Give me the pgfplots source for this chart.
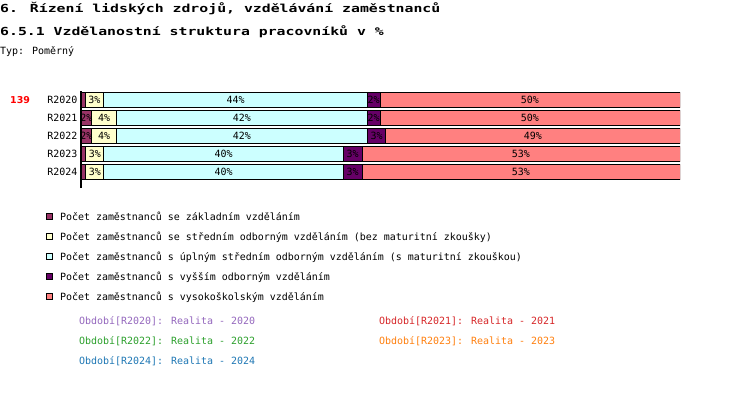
\documentclass[border=0pt]{standalone}
\usepackage{fontspec}
\usepackage{pgfplots}
\usepackage{pgfplotstable}
\pgfplotsset{compat=1.18}
\setmainfont{DejaVu Sans Mono}
\newfontfamily\titlefont[FakeStretch=1.34]{DejaVu Sans Mono}
\newfontfamily\numfont{DejaVu Sans}
\definecolor{cA}{HTML}{993366}
\definecolor{cB}{HTML}{FFFFCC}
\definecolor{cC}{HTML}{CCFFFF}
\definecolor{cD}{HTML}{660066}
\definecolor{cE}{HTML}{FF8080}
\definecolor{tPurple}{HTML}{9467BD}
\definecolor{tRed}{HTML}{D62728}
\definecolor{tGreen}{HTML}{2CA02C}
\definecolor{tOrange}{HTML}{FF7F0E}
\definecolor{tBlue}{HTML}{1F77B4}

\pgfplotstableread{
y a b c d e
4 0.7 3.1 44.0 2.1 50.1
3 1.8 4.1 41.9 2.1 50.1
2 1.8 4.1 41.9 3.1 49.1
1 0.8 3.0 40.0 3.1 53.1
0 0.8 3.0 40.0 3.1 53.1
}\datatable

\pgfplotstableread{
x y lab
2.25 4 3
25.8 4 44
48.85 4 2
74.95 4 50
0.9 3 2
3.85 3 4
26.85 3 42
48.85 3 2
74.95 3 50
0.9 2 2
3.85 2 4
26.85 2 42
49.35 2 3
75.45 2 49
2.3 1 3
23.8 1 40
45.35 1 3
73.45 1 53
2.3 0 3
23.8 0 40
45.35 0 3
73.45 0 53
}\labeltable

\begin{document}
\begin{tikzpicture}[x=1bp,y=1bp]
\useasboundingbox (0,0) rectangle (750,-418);
\fontsize{10}{12}\selectfont
\node[anchor=base west, inner sep=0pt] at (0,-12) {\titlefont\bfseries\fontsize{11.1}{13}\selectfont 6. Řízení lidských zdrojů, vzdělávání zaměstnanců};
\node[anchor=base west, inner sep=0pt] at (0,-35) {\titlefont\bfseries\fontsize{11.1}{13}\selectfont 6.5.1 Vzdělanostní struktura pracovníků v \%};
\node[anchor=base west, inner sep=0pt] at (0,-54) {Typ: Poměrný};
\node[anchor=base west, inner sep=0pt, text=red] at (10,-103) {\numfont\bfseries\fontsize{9.5}{11}\selectfont 139};

\begin{axis}[
  at={(81bp,-188bp)}, anchor=south west,
  scale only axis, width=599bp, height=97bp,
  xbar stacked, bar width=15bp,
  xmin=0, xmax=100, ymin=-0.889, ymax=4.5,
  hide x axis,
  axis y line*=left,
  y axis line style={line width=2bp, -},
  ytick={0,1,2,3,4},
  yticklabels={R2024,R2023,R2022,R2021,R2020},
  ytick style={draw=none},
  yticklabel style={anchor=east, inner sep=0pt, xshift=-3.5bp, font=\fontsize{10}{12}\selectfont},
  legend style={at={(axis description cs:-0.0589,-0.2474)}, anchor=north west,
    draw=none, fill=none, inner sep=0pt, outer sep=0pt, row sep=9.1bp,
    font=\fontsize{10}{12}\selectfont,
    nodes={inner sep=0pt, text height=8bp, text depth=3bp},
    /tikz/every odd column/.append style={column sep=7.5bp}},
  legend cell align=left,
  legend image code/.code={\draw[#1,draw=black,line width=0.8bp] (0bp,-1.6bp) rectangle (6bp,4.4bp);},
  every axis plot/.append style={draw=black, line width=0.8bp},
]
\addplot[fill=cA] table[x=a,y=y]{\datatable};
\addlegendentry{Počet zaměstnanců se základním vzděláním}
\addplot[fill=cB] table[x=b,y=y]{\datatable};
\addlegendentry{Počet zaměstnanců se středním odborným vzděláním (bez maturitní zkoušky)}
\addplot[fill=cC] table[x=c,y=y]{\datatable};
\addlegendentry{Počet zaměstnanců s úplným středním odborným vzděláním (s maturitní zkouškou)}
\addplot[fill=cD] table[x=d,y=y]{\datatable};
\addlegendentry{Počet zaměstnanců s vyšším odborným vzděláním}
\addplot[fill=cE] table[x=e,y=y]{\datatable};
\addlegendentry{Počet zaměstnanců s vysokoškolským vzděláním}
\end{axis}

\begin{axis}[
  at={(81bp,-188bp)}, anchor=south west,
  scale only axis, width=599bp, height=97bp,
  xmin=0, xmax=100, ymin=-0.889, ymax=4.5,
  hide axis,
]
\addplot[draw=none, mark=none, nodes near coords={\pgfplotspointmeta\%},
  point meta=explicit symbolic,
  every node near coord/.style={anchor=center, inner sep=0pt, font=\fontsize{10}{12}\selectfont}]
  table[x=x,y=y,meta=lab]{\labeltable};
\end{axis}

\node[anchor=base west, inner sep=0pt, text=tPurple] at (79,-324) {Období[R2020]: Realita - 2020};
\node[anchor=base west, inner sep=0pt, text=tRed] at (379,-324) {Období[R2021]: Realita - 2021};
\node[anchor=base west, inner sep=0pt, text=tGreen] at (79,-344) {Období[R2022]: Realita - 2022};
\node[anchor=base west, inner sep=0pt, text=tOrange] at (379,-344) {Období[R2023]: Realita - 2023};
\node[anchor=base west, inner sep=0pt, text=tBlue] at (79,-364) {Období[R2024]: Realita - 2024};
\end{tikzpicture}
\end{document}
